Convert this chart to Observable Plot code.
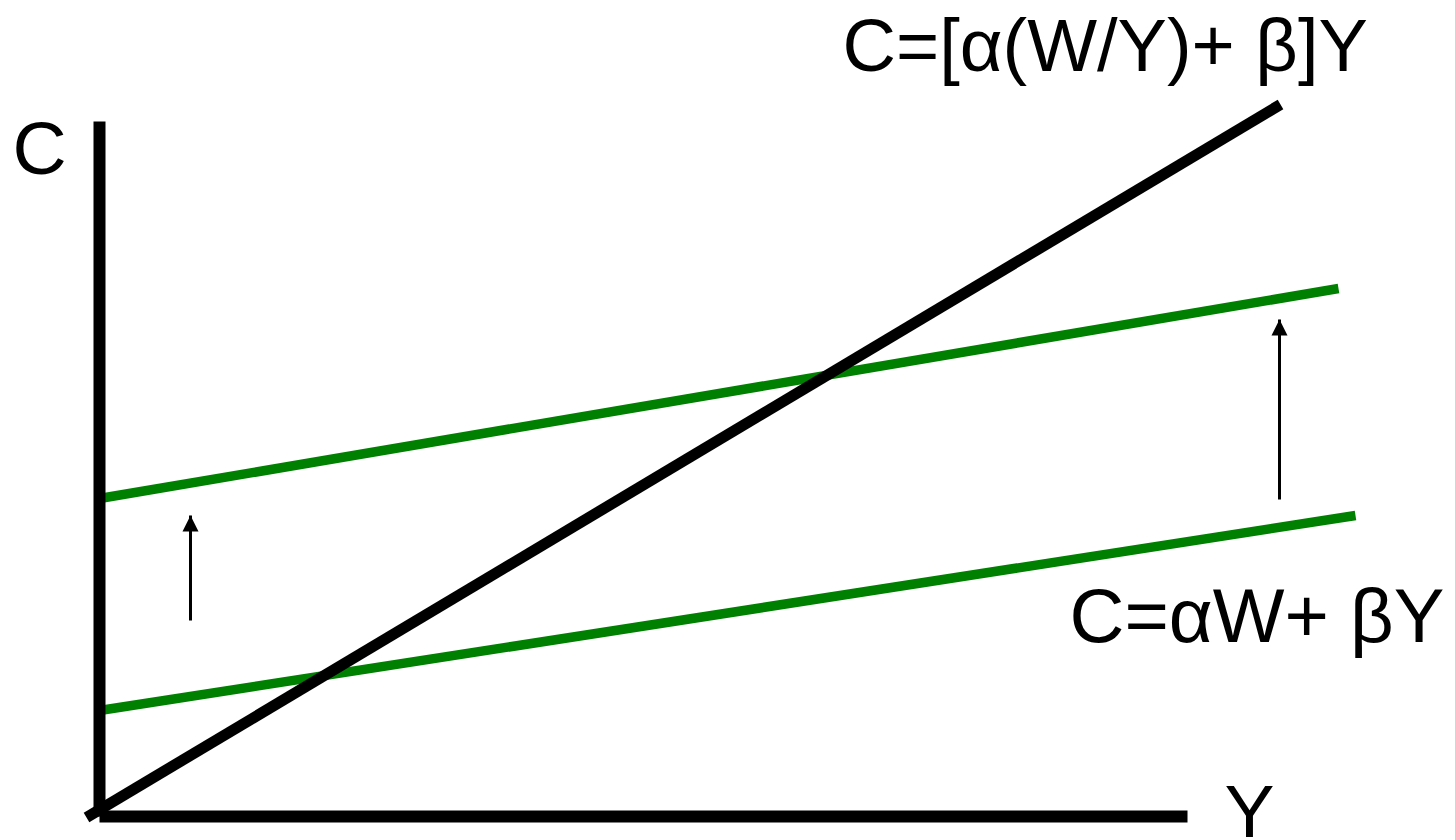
<!DOCTYPE html>
<html>
<head>
<meta charset="utf-8">
<script src="https://cdn.jsdelivr.net/npm/d3@7"></script>
<script src="https://cdn.jsdelivr.net/npm/@observablehq/plot@0.6"></script>
<style>
  html, body { margin: 0; padding: 0; background: #fff; }
  #chart svg { display: block; }
</style>
</head>
<body>
<div id="chart"></div>
<script>
// Consumption function diagram: C against income Y.
// Coordinates are in diagram units, origin at the corner of the axes.

// Axes (C vertical, Y horizontal)
const cAxis = [{Y: 0, C: 0}, {Y: 0, C: 6.95}];
const yAxis = [{Y: 0, C: 0}, {Y: 10.88, C: 0}];

// C = [α(W/Y) + β]Y  — ray through the origin
const rayLine = [{Y: -0.13, C: -0.01}, {Y: 11.81, C: 7.12}];

// C = αW + βY  — before and after the rise in wealth W
const lowerLine = [{Y: 0, C: 1.06}, {Y: 12.56, C: 3.01}];
const upperLine = [{Y: 0, C: 3.18}, {Y: 12.39, C: 5.28}];

// Upward shift arrows
const shiftArrows = [
  {Y: 0.91, C1: 1.96, C2: 3.01},
  {Y: 11.80, C1: 3.17, C2: 4.97}
];

// Labels
const axisLabels = [
  {Y: -0.87, C: 6.43, text: "C"},
  {Y: 11.25, C: -0.20, text: "Y"}
];
const rayLabel = [{Y: 7.43, C: 7.46, text: "C=[α(W/Y)+ β]Y"}];
const lineLabel = [{Y: 9.70, C: 1.75, text: "C=αW+ βY"}];

// Filled arrowhead with its tip at the anchor point
const arrowHead = {
  draw(context, size) {
    const w = Math.sqrt(size);
    context.moveTo(0, 0);
    context.lineTo(w / 2, w);
    context.lineTo(-w / 2, w);
    context.closePath();
  }
};

const green = "#008000";
const font = "'Liberation Sans', Arial, Helvetica, sans-serif";
const textOpts = {x: "Y", y: "C", text: "text", textAnchor: "start", lineAnchor: "bottom", fill: "#000", fontFamily: font};

const chart = Plot.plot({
  width: 1455,
  height: 840,
  margin: 0,
  x: {domain: [-0.99, 13.56], axis: null},
  y: {domain: [-0.24, 8.16], axis: null},
  style: {background: "#fff", fontFamily: font},
  marks: [
    Plot.line(lowerLine, {x: "Y", y: "C", stroke: green, strokeWidth: 9.5, strokeLinecap: "butt"}),
    Plot.line(upperLine, {x: "Y", y: "C", stroke: green, strokeWidth: 9.5, strokeLinecap: "butt"}),
    Plot.line(rayLine, {x: "Y", y: "C", stroke: "#000", strokeWidth: 11, strokeLinecap: "butt"}),
    Plot.line(cAxis, {x: "Y", y: "C", stroke: "#000", strokeWidth: 12, strokeLinecap: "butt"}),
    Plot.line(yAxis, {x: "Y", y: "C", stroke: "#000", strokeWidth: 12, strokeLinecap: "butt"}),
    Plot.link(shiftArrows, {x1: "Y", x2: "Y", y1: "C1", y2: "C2", stroke: "#000", strokeWidth: 3}),
    Plot.dot(shiftArrows, {x: "Y", y: "C2", symbol: arrowHead, r: 9, fill: "#000", stroke: "none"}),
    Plot.text(axisLabels, {...textOpts, fontSize: 75}),
    Plot.text(rayLabel, {...textOpts, fontSize: 74}),
    Plot.text(lineLabel, {...textOpts, fontSize: 76})
  ]
});

document.getElementById("chart").append(chart);
</script>
</body>
</html>
